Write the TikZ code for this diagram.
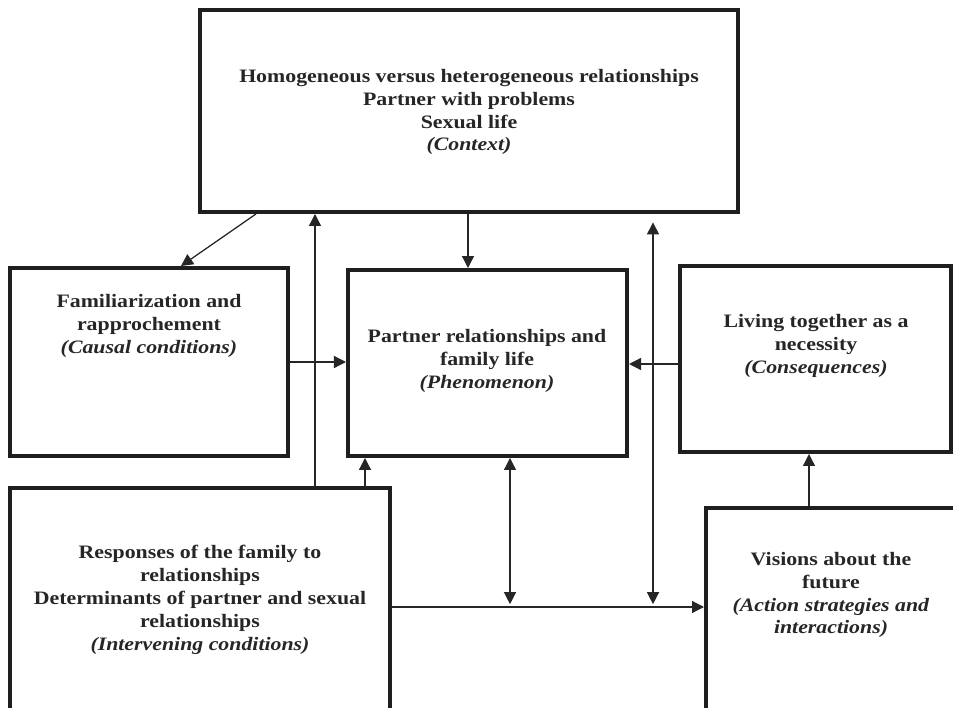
\documentclass[tikz,border=0pt]{standalone}
\usepackage{fontspec}
\setmainfont{Liberation Serif}[FakeStretch=1.15]
\usetikzlibrary{arrows.meta,calc}
\tikzset{
	box/.style={draw=black!88, line width=2.8pt, inner sep=0pt},
	txt/.style={align=center, text=black!85, font=\fontsize{13.5}{16.3}\selectfont\bfseries},
	arr/.style={-{Triangle[length=3mm,width=3mm]}, line width=0.9pt, black!85},
	dbl/.style={{Triangle[length=3mm,width=3mm]}-{Triangle[length=3mm,width=3mm]}, line width=0.9pt, black!85}
}

\begin{document}
\begin{tikzpicture}[x=0.025cm, y=-0.025cm]
		\useasboundingbox (0,0) rectangle (953,708);
		\clip (0,0) rectangle (953,708);

		\node[box, minimum width=13.45cm, minimum height=5.05cm] (ctx) at (469,111) {};
		\node[box, minimum width=6.95cm, minimum height=4.7cm] (fam) at (149,362) {};
		\node[box, minimum width=6.975cm, minimum height=4.65cm] (phen) at (487.5,363) {};
		\node[box, minimum width=6.775cm, minimum height=4.65cm] (cons) at (815.5,359) {};
		\node[box, minimum width=9.5cm, minimum height=6.05cm] (intv) at (200,609) {};
		\node[box, minimum width=6.35cm, minimum height=5.55cm] (vis) at (833,619) {};

		\node[txt] (ctxt) at (469,112) {Homogeneous versus heterogeneous relationships\\Partner with problems\\Sexual life\\\textit{(Context)}};
		\node[txt] (famt) at (149,326) {Familiarization and\\rapprochement\\\textit{(Causal conditions)}};
		\node[txt] (phent) at (487,361) {Partner relationships and\\family life\\\textit{(Phenomenon)}};
		\node[txt] (const) at (816,346) {Living together as a\\necessity\\\textit{(Consequences)}};
		\node[txt] (intvt) at (200,600) {Responses of the family to\\relationships\\Determinants of partner and sexual\\relationships\\\textit{(Intervening conditions)}};
		\node[txt] (vist) at (831,595) {Visions about the\\future\\\textit{(Action strategies and}\\\textit{interactions)}};

		\coordinate (hl) at (0,607);
		\coordinate (jA) at (510,607);
		\coordinate (jB) at (653,607);

		\draw[arr] ($(ctx.south west)+(58,0)$) -- ($(fam.north west)+(173,0)$);
		\draw[arr] (ctx.south -| 468,0) -- (phen.north -| 468,0);
		\draw[arr] (intv.north -| 315,0) -- (ctx.south -| 315,0);
		\draw[arr] (intv.north -| 365,0) -- (phen.south -| 365,0);
		\draw[arr] (fam.east |- 0,362) -- (phen.west |- 0,362);
		\draw[arr] (cons.west |- 0,364) -- (phen.east |- 0,364);
		\draw[arr] (vis.north -| 809,0) -- (cons.south -| 809,0);
		\draw[arr] (intv.east |- hl) -- (vis.west |- hl);
		\draw[dbl, shorten >=2pt] (phen.south -| jA) -- (jA);
		\draw[dbl, shorten <=6pt, shorten >=2pt] (ctx.south -| jB) -- (jB);
\end{tikzpicture}
\end{document}
